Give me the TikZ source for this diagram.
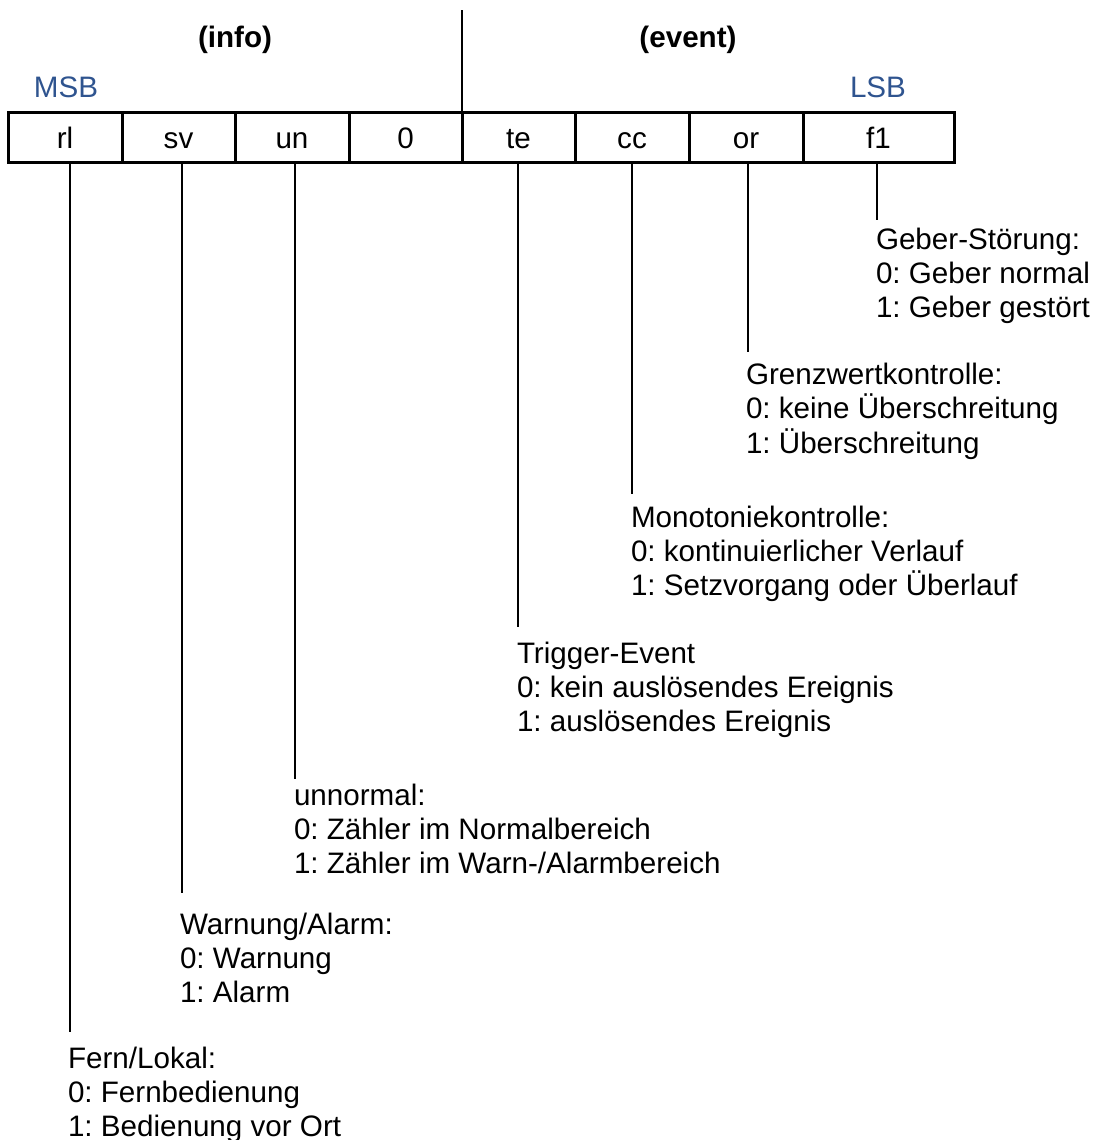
\documentclass[tikz,border=0pt]{standalone}
\usepackage{fontspec}
\setmainfont{Liberation Sans}
\frenchspacing
\definecolor{bitblue}{RGB}{47,84,143}
% left-aligned multi-line text whose baseline is that of its first line
\newcommand\firstlinebox[1]{\begin{tabular}[t]{@{}l@{}}#1\end{tabular}}
\begin{document}
\begin{tikzpicture}[x=0.5pt,y=-0.5pt,
  every node/.style={inner sep=0pt, outer sep=0pt, font=\fontsize{14.8pt}{17pt}\selectfont},
  bitcell/.style={draw, line width=1.5pt, anchor=north west, minimum height=25.2pt,
                  text height=10.5pt, text depth=0pt},
  head/.style={anchor=base, font=\fontsize{14.8pt}{17pt}\selectfont\bfseries},
  order/.style={anchor=base, text=bitblue},
  leader/.style={line width=1pt},
  desc/.style={anchor=base west}]
\useasboundingbox (0,0) rectangle (1093,1140);

% group headings and bit order
\node[head] (info)  at (235,47) {(info)};
\node[head] (event) at (688,47) {(event)};
\node[order] (msb) at (66,97)  {MSB};
\node[order] (lsb) at (878,97) {LSB};

% the eight bit cells
\node[bitcell, minimum width=57pt]   (b7) at (8,112.3)   {rl};
\node[bitcell, minimum width=56.5pt] (b6) at (122,112.3) {sv};
\node[bitcell, minimum width=57pt]   (b5) at (235,112.3) {un};
\node[bitcell, minimum width=56.5pt] (b4) at (349,112.3) {0};
\node[bitcell, minimum width=56.5pt] (b3) at (462,112.3) {te};
\node[bitcell, minimum width=57pt]   (b2) at (575,112.3) {cc};
\node[bitcell, minimum width=57pt]   (b1) at (689,112.3) {or};
\node[bitcell, minimum width=75.5pt] (b0) at (803,112.3) {f1};

% separator between info and event part
\coordinate (sep) at (462,10);
\draw[leader] (sep) -- (b3.north west);

% ends of the leader lines
\coordinate (e7) at (70,1032);
\coordinate (e6) at (182,893);
\coordinate (e5) at (295,779);
\coordinate (e3) at (518,627);
\coordinate (e2) at (632,494);
\coordinate (e1) at (748,352);
\coordinate (e0) at (877,220);

\draw[leader] (b7.south -| e7) -- (e7);
\draw[leader] (b6.south -| e6) -- (e6);
\draw[leader] (b5.south -| e5) -- (e5);
\draw[leader] (b3.south -| e3) -- (e3);
\draw[leader] (b2.south -| e2) -- (e2);
\draw[leader] (b1.south -| e1) -- (e1);
\draw[leader] (b0.south -| e0) -- (e0);

% bit descriptions
\node[desc] (d0) at (876,249) {\firstlinebox{Geber-Störung:\\0: Geber normal\\1: Geber gestört}};
\node[desc] (d1) at (746,384) {\firstlinebox{Grenzwertkontrolle:\\0: keine Überschreitung\\1: Überschreitung}};
\node[desc] (d2) at (631,527) {\firstlinebox{Monotoniekontrolle:\\0: kontinuierlicher Verlauf\\1: Setzvorgang oder Überlauf}};
\node[desc] (d3) at (517,663) {\firstlinebox{Trigger-Event\\0: kein auslösendes Ereignis\\1: auslösendes Ereignis}};
\node[desc] (d5) at (294,805) {\firstlinebox{unnormal:\\0: Zähler im Normalbereich\\1: Zähler im Warn-/Alarmbereich}};
\node[desc] (d6) at (180,934) {\firstlinebox{Warnung/Alarm:\\0: Warnung\\1: Alarm}};
\node[desc] (d7) at (68,1068) {\firstlinebox{Fern/Lokal:\\0: Fernbedienung\\1: Bedienung vor Ort}};
\end{tikzpicture}
\end{document}
